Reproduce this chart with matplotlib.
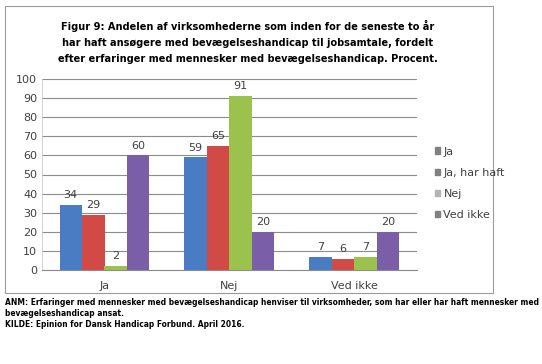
import matplotlib
matplotlib.use("Agg")
import matplotlib.pyplot as plt
import numpy as np
from matplotlib.patches import Rectangle

categories = ["Ja", "Nej", "Ved ikke"]
series_names = ["Ja", "Ja, har haft", "Nej", "Ved ikke"]
values = {
    "Ja": [34, 59, 7],
    "Ja, har haft": [29, 65, 6],
    "Nej": [2, 91, 7],
    "Ved ikke": [60, 20, 20],
}
colors = ["#4a7cc4", "#d24a45", "#9cc24e", "#7b5ea8"]
legend_marker_colors = ["#808080", "#808080", "#b4b4b4", "#808080"]
yticks = list(range(0, 101, 10))

title = ("Figur 9: Andelen af virksomhederne som inden for de seneste to år\n"
         "har haft ansøgere med bevægelseshandicap til jobsamtale, fordelt\n"
         "efter erfaringer med mennesker med bevægelseshandicap. Procent.")
note = ("ANM: Erfaringer med mennesker med bevægelseshandicap henviser til virksomheder, som har eller har haft mennesker med\n"
        "bevægelseshandicap ansat.\n"
        "KILDE: Epinion for Dansk Handicap Forbund. April 2016.")

fig = plt.figure(figsize=(5.42, 3.64), dpi=100)
W, H = 542, 364

# outer frame around chart
fig.patches.append(Rectangle((5 / W, 1 - 293 / H), 488 / W, 287 / H,
                             transform=fig.transFigure, fill=False,
                             edgecolor="#9a9a9a", lw=0.8))

ax = fig.add_axes((42 / W, 1 - 270 / H, 375 / W, 191 / H))
x = np.arange(len(categories))
bw = 0.18
for i, name in enumerate(series_names):
    pos = x + (i - 1.5) * bw
    bars = ax.bar(pos, values[name], width=bw, color=colors[i], label=name, zorder=3)
    for b, v in zip(bars, values[name]):
        ax.text(b.get_x() + b.get_width() / 2, v + 2.5, str(v), ha="center",
                va="bottom", fontsize=8, color="#404040")

ax.set_xlim(-0.5, 2.5)
ax.set_ylim(0, 100)
ax.set_yticks(yticks)
ax.set_xticks(x)
ax.set_xticklabels(categories)
ax.tick_params(length=0, labelsize=8, colors="#404040")
ax.tick_params(axis="x", pad=8)
ax.grid(axis="y", color="#8c8c8c", lw=0.8, zorder=0)
for s in ["top", "right"]:
    ax.spines[s].set_visible(False)
ax.spines["left"].set_color("#c8c8c8")
ax.spines["left"].set_linewidth(0.6)
ax.spines["bottom"].set_color("#8c8c8c")

handles = [Rectangle((0, 0), 1, 1, color=c) for c in legend_marker_colors]
leg = fig.legend(handles, series_names, loc="upper left",
                 bbox_to_anchor=(429 / W, 1 - 141 / H), frameon=False,
                 fontsize=8, handlelength=0.5, handleheight=0.5,
                 handletextpad=0.3, labelspacing=1.0, borderpad=0)
for t in leg.get_texts():
    t.set_color("#404040")

fig.text(248 / W, 1 - 41.5 / H, title, ha="center", va="center",
         fontsize=7.8, fontweight="bold", family="DejaVu Sans",
         fontstretch="condensed", linespacing=1.75)
fig.text(5 / W, 1 - 298 / H, note, ha="left", va="top",
         fontsize=6.0, fontweight="bold", family="DejaVu Sans",
         fontstretch="condensed", linespacing=1.3)

fig.savefig("out.png", dpi=100, facecolor="white")
